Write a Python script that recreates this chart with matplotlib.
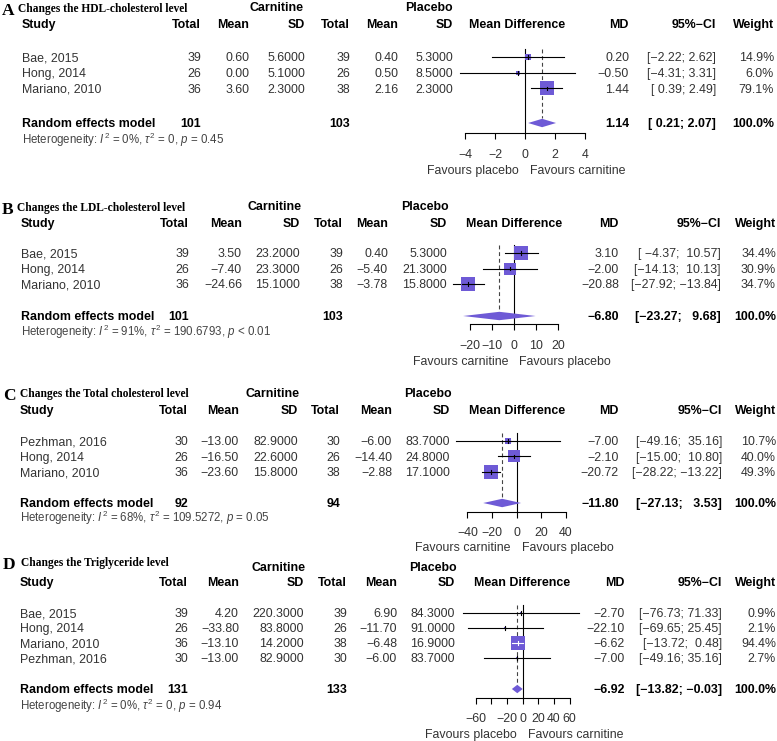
import matplotlib
matplotlib.use('Agg')
import matplotlib.pyplot as plt

W, H, DPI = 777, 741, 100

# ---------------- data ----------------
panel_letter = ['A', 'B', 'C', 'D']
panel_title = ['Changes the HDL-cholesterol level', 'Changes the LDL-cholesterol level',
               'Changes the Total cholesterol level', 'Changes the Triglyceride level']
study = [['Bae, 2015', 'Hong, 2014', 'Mariano, 2010'],
         ['Bae, 2015', 'Hong, 2014', 'Mariano, 2010'],
         ['Pezhman, 2016', 'Hong, 2014', 'Mariano, 2010'],
         ['Bae, 2015', 'Hong, 2014', 'Mariano, 2010', 'Pezhman, 2016']]
total_c = [[39, 26, 36], [39, 26, 36], [30, 26, 36], [39, 26, 36, 30]]
mean_c = [[0.60, 0.00, 3.60], [3.50, -7.40, -24.66], [-13.00, -16.50, -23.60], [4.20, -33.80, -13.10, -13.00]]
sd_c = [[5.6, 5.1, 2.3], [23.2, 23.3, 15.1], [82.9, 22.6, 15.8], [220.3, 83.8, 14.2, 82.9]]
total_p = [[39, 26, 38], [39, 26, 38], [30, 26, 38], [39, 26, 38, 30]]
mean_p = [[0.40, 0.50, 2.16], [0.40, -5.40, -3.78], [-6.00, -14.40, -2.88], [6.90, -11.70, -6.48, -6.00]]
sd_p = [[5.3, 8.5, 2.3], [5.3, 21.3, 15.8], [83.7, 24.8, 17.1], [84.3, 91.0, 16.9, 83.7]]
md = [[0.20, -0.50, 1.44], [3.10, -2.00, -20.88], [-7.00, -2.10, -20.72], [-2.70, -22.10, -6.62, -7.00]]
ci_lo = [[-2.22, -4.31, 0.39], [-4.37, -14.13, -27.92], [-49.16, -15.00, -28.22], [-76.73, -69.65, -13.72, -49.16]]
ci_hi = [[2.62, 3.31, 2.49], [10.57, 10.13, -13.84], [35.16, 10.80, -13.22], [71.33, 25.45, 0.48, 35.16]]
weight = [[14.9, 6.0, 79.1], [34.4, 30.9, 34.7], [10.7, 40.0, 49.3], [0.9, 2.1, 94.4, 2.7]]
re_md = [1.14, -6.80, -11.80, -6.92]
re_lo = [0.21, -23.27, -27.13, -13.82]
re_hi = [2.07, 9.68, 3.53, -0.03]
re_total_c = [101, 101, 92, 131]
re_total_p = [103, 103, 94, 133]
het_i2 = ['0%', '91%', '68%', '0%']
het_tau2 = ['0', '190.6793', '109.5272', '0']
het_p = ['= 0.45', '< 0.01', '= 0.05', '= 0.94']
axis_ticks = [[-4, -2, 0, 2, 4], [-20, -10, 0, 10, 20], [-40, -20, 0, 20, 40], [-60, -40, -20, 0, 20, 40, 60]]
axis_ticklabels = [['−4', '−2', '0', '2', '4'], ['−20', '−10', '0', '10', '20'],
                   ['−40', '−20', '0', '20', '40'], ['−60', '', '−20', '0', '20', '40', '60']]
label_left = ['Favours placebo', 'Favours carnitine', 'Favours carnitine', 'Favours placebo']
label_right = ['Favours carnitine', 'Favours placebo', 'Favours placebo', 'Favours carnitine']

# ---------------- layout (pixels) ----------------
layout = [
    dict(letter_x=2, title_x=18, title_y=8, group_y=7, head_y=24, row0=57, row_h=15.7, re_y=123, het_y=140,
         axis_y=133, tick_y=154, fav_y=170, zero_x=525, ppu=15.0,
         cols=[22, 201, 249.5, 305, 350, 398, 453, 629, 716, 774], carn_x=277, plac_x=429, mdh_x=517),
    dict(letter_x=2, title_x=17, title_y=207, group_y=206, head_y=223, row0=253, row_h=15.5, re_y=316, het_y=332,
         axis_y=324, tick_y=345, fav_y=361, zero_x=514.3, ppu=2.2,
         cols=[21, 189, 242, 300, 343, 388, 447, 619, 721, 776], carn_x=275, plac_x=425, mdh_x=514),
    dict(letter_x=3, title_x=20, title_y=393, group_y=393, head_y=410, row0=441, row_h=15.5, re_y=503, het_y=518,
         axis_y=512, tick_y=532, fav_y=547, zero_x=516.7, ppu=1.234,
         cols=[20, 188, 239, 298, 340, 392, 450, 619, 722, 776], carn_x=272, plac_x=427.5, mdh_x=517),
    dict(letter_x=3, title_x=21, title_y=562, group_y=567, head_y=582, row0=613, row_h=15.0, re_y=689, het_y=706,
         axis_y=698, tick_y=718, fav_y=734, zero_x=522.7, ppu=0.783,
         cols=[20, 188, 239, 304, 347, 397, 455, 625, 722, 776], carn_x=279, plac_x=433, mdh_x=522),
]

SANS = 'Liberation Sans'
SERIF = 'Liberation Serif'
FS = 8.9
TXT = '#333333'
SQ = '#6e5ad6'
MAXSIDE = 13.5

plt.rcParams['mathtext.fontset'] = 'custom'
plt.rcParams['mathtext.rm'] = 'Liberation Sans'
plt.rcParams['mathtext.it'] = 'Liberation Sans:italic'
plt.rcParams['mathtext.bf'] = 'Liberation Sans:bold'

fig = plt.figure(figsize=(W / DPI, H / DPI), dpi=DPI)
fig.patch.set_facecolor('white')


def ftxt(x, y, s, ha='left', weight='normal', size=FS, color=None, family=SANS):
    if color is None:
        color = '#000000' if weight == 'bold' else TXT
    bl = 0.36 * size * DPI / 72
    fig.text(x / W, 1 - (y + bl) / H, s, ha=ha, va='baseline', fontsize=size,
             fontweight=weight, color=color, family=family)


def fnum(v, d):
    return f"{v:.{d}f}".replace('-', '−')


for k in range(4):
    L = layout[k]
    c = L['cols']
    # titles
    ftxt(L['letter_x'], L['title_y'] + 0.5, panel_letter[k], weight='bold', size=12.5, family=SERIF)
    ftxt(L['title_x'], L['title_y'], panel_title[k], weight='bold', size=8.3, family=SERIF)
    ftxt(L['carn_x'], L['group_y'], 'Carnitine', ha='center', weight='bold')
    ftxt(L['plac_x'], L['group_y'], 'Placebo', ha='center', weight='bold')
    # header
    ftxt(c[0], L['head_y'], 'Study', weight='bold')
    for x, s in zip(c[1:7], ['Total', 'Mean', 'SD', 'Total', 'Mean', 'SD']):
        ftxt(x, L['head_y'], s, ha='right', weight='bold')
    ftxt(L['mdh_x'], L['head_y'], 'Mean Difference', ha='center', weight='bold')
    ftxt(c[7], L['head_y'], 'MD', ha='right', weight='bold')
    ftxt(c[8], L['head_y'], '95%−CI', ha='right', weight='bold')
    ftxt(c[9], L['head_y'], 'Weight', ha='right', weight='bold')

    lo_s = [fnum(v, 2) for v in ci_lo[k]] + [fnum(re_lo[k], 2)]
    hi_s = [fnum(v, 2) for v in ci_hi[k]] + [fnum(re_hi[k], 2)]
    wl = max(len(s) for s in lo_s)
    wu = max(len(s) for s in hi_s)
    ci_s = ['[' + a.rjust(wl) + '; ' + b.rjust(wu) + ']' for a, b in zip(lo_s, hi_s)]

    n = len(study[k])
    rows_y = [L['row0'] + i * L['row_h'] for i in range(n)]
    for i in range(n):
        y = rows_y[i]
        ftxt(c[0], y, study[k][i])
        ftxt(c[1], y, str(total_c[k][i]), ha='right')
        ftxt(c[2], y, fnum(mean_c[k][i], 2), ha='right')
        ftxt(c[3], y, fnum(sd_c[k][i], 4), ha='right')
        ftxt(c[4], y, str(total_p[k][i]), ha='right')
        ftxt(c[5], y, fnum(mean_p[k][i], 2), ha='right')
        ftxt(c[6], y, fnum(sd_p[k][i], 4), ha='right')
        ftxt(c[7], y, fnum(md[k][i], 2), ha='right')
        ftxt(c[8], y, ci_s[i], ha='right')
        ftxt(c[9], y, f"{weight[k][i]:.1f}%", ha='right')
    ry = L['re_y']
    ftxt(c[0], ry, 'Random effects model', weight='bold')
    ftxt(c[1], ry, str(re_total_c[k]), ha='right', weight='bold')
    ftxt(c[4], ry, str(re_total_p[k]), ha='right', weight='bold')
    ftxt(c[7], ry, fnum(re_md[k], 2), ha='right', weight='bold')
    ftxt(c[8], ry, ci_s[-1], ha='right', weight='bold')
    ftxt(c[9], ry, '100.0%', ha='right', weight='bold')
    het = ('Heterogeneity: $\\mathit{I}^2$ = ' + het_i2[k] + ', $\\tau^2$ = ' + het_tau2[k] +
           ', $\\mathit{p}$ ' + het_p[k])
    ftxt(c[0], L['het_y'], het, size=8.3, color='#444444')

    # ---- forest axes ----
    half = 125
    top = L['row0'] - 8
    bot = L['axis_y']
    ax = fig.add_axes([(L['zero_x'] - half) / W, 1 - bot / H, 2 * half / W, (bot - top) / H])
    ax.set_xlim(-half / L['ppu'], half / L['ppu'])
    ax.set_ylim(bot, top)
    ax.patch.set_visible(False)
    for sp in ['top', 'right', 'left']:
        ax.spines[sp].set_visible(False)
    ax.spines['bottom'].set_linewidth(0.8)
    ax.spines['bottom'].set_bounds(axis_ticks[k][0], axis_ticks[k][-1])
    ax.set_yticks([])
    ax.set_xticks(axis_ticks[k])
    ax.set_xticklabels([])
    ax.tick_params(axis='x', direction='out', length=4.3, width=0.8, color='black')
    for t, lab in zip(axis_ticks[k], axis_ticklabels[k]):
        ax.text(t, L['tick_y'] + 0.36 * FS * DPI / 72, lab, ha='center', va='baseline',
                fontsize=FS, color=TXT, family=SANS, clip_on=False)
    ax.text(-6 / L['ppu'], L['fav_y'] + 0.36 * FS * DPI / 72, label_left[k], ha='right', va='baseline',
            fontsize=FS, color=TXT, family=SANS, clip_on=False)
    ax.text(5 / L['ppu'], L['fav_y'] + 0.36 * FS * DPI / 72, label_right[k], ha='left', va='baseline',
            fontsize=FS, color=TXT, family=SANS, clip_on=False)

    # zero line and summary dashed line
    ax.plot([0, 0], [top, bot], color='black', lw=0.8, clip_on=False, zorder=2)
    ax.plot([re_md[k], re_md[k]], [top, ry - 5], color='#444444', lw=0.8,
            ls=(0, (3.5, 2.5)), clip_on=False, zorder=1)

    wmax = max(weight[k])
    for i in range(n):
        y = rows_y[i]
        side = MAXSIDE * (weight[k][i] / wmax) ** 0.5
        ax.plot([ci_lo[k][i], ci_hi[k][i]], [y, y], color='black', lw=0.8, clip_on=False, zorder=3)
        ax.scatter([md[k][i]], [y], marker='s', s=(side * 0.72) ** 2, color=SQ, linewidths=0,
                   zorder=4, clip_on=False)
        inside = (ci_hi[k][i] - ci_lo[k][i]) * L['ppu'] < side
        lc = 'white' if inside else 'black'
        if inside:
            ax.plot([ci_lo[k][i], ci_hi[k][i]], [y, y], color=lc, lw=0.8, clip_on=False, zorder=5)
        else:
            h = side / 2
            ax.plot([md[k][i] - h / L['ppu'], md[k][i] + h / L['ppu']], [y, y], color=lc, lw=0.8,
                    clip_on=False, zorder=5)
        ax.plot([md[k][i], md[k][i]], [y - 1.8, y + 1.8], color=lc, lw=0.8, clip_on=False, zorder=5)

    ax.fill([re_lo[k], re_md[k], re_hi[k], re_md[k]], [ry, ry - 4.2, ry, ry + 4.2],
            color=SQ, lw=0, zorder=4, clip_on=False)

fig.savefig('out.png', dpi=DPI)
